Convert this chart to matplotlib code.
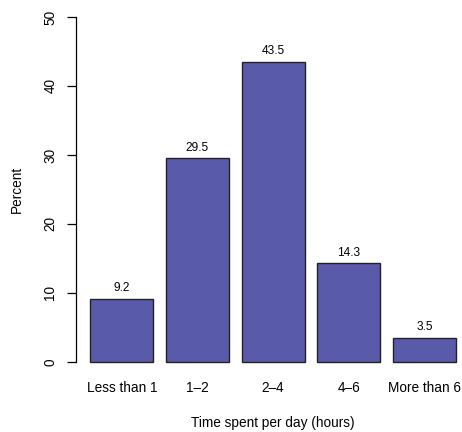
import matplotlib.pyplot as plt
import numpy as np

categories = ['Less than 1', '1\u20132', '2\u20134', '4\u20136', 'More than 6']
percent = [9.2, 29.5, 43.5, 14.3, 3.5]
labels = ['9.2', '29.5', '43.5', '14.3', '3.5']

plt.rcParams['font.family'] = ['Liberation Sans', 'DejaVu Sans']

fig = plt.figure(figsize=(4.62, 4.32), dpi=100)
# axes extends past the right edge like the cropped R device
ax = fig.add_axes([75.7 / 462, 56.2 / 432, 394.9 / 462, 372.6 / 432])

x = 0.7 + 1.2 * np.arange(len(percent))
ax.bar(x, percent, width=1.0, color='#5a5aaa', edgecolor='#222222', linewidth=1.0)
for xi, v, lab in zip(x, percent, labels):
    ax.text(xi, v + 1.5, lab, ha='center', va='center', fontsize=8.6)

ax.set_xlim(-0.032, 6.232)
ax.set_ylim(-2, 52)
for s in ['top', 'right', 'bottom']:
    ax.spines[s].set_visible(False)
ax.spines['left'].set_bounds(0, 50)
ax.spines['left'].set_linewidth(0.9)

ax.set_yticks(np.arange(0, 51, 10))
ax.set_yticklabels([str(t) for t in range(0, 51, 10)], rotation=90, va='center', fontsize=9.8)
ax.tick_params(axis='y', length=6.7, width=0.9, pad=6.5)
ax.set_xticks(x)
ax.set_xticklabels(categories, fontsize=9.8)
ax.tick_params(axis='x', length=0, pad=4)

ax.set_ylabel('Percent', fontsize=9.8, labelpad=14)
ax.set_xlabel('Time spent per day (hours)', fontsize=9.8, labelpad=15)

fig.savefig('out.png', dpi=100)
